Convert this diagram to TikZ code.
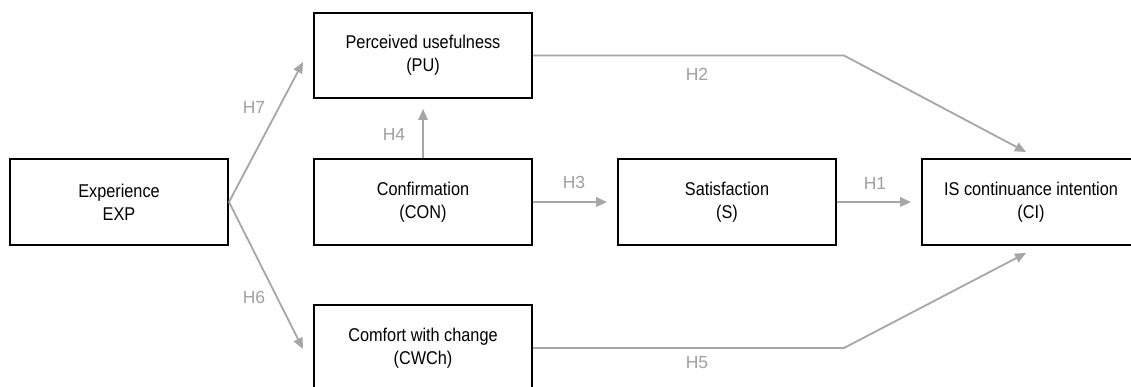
\documentclass[tikz,border=0pt]{standalone}
\usepackage{fontspec}
\setmainfont{Liberation Sans}
\newfontfamily\boxfont[FakeStretch=0.88]{Liberation Sans}
\usetikzlibrary{arrows.meta}
\definecolor{linkgray}{RGB}{166,166,166}
\definecolor{labelgray}{RGB}{160,160,160}
\tikzset{
  construct/.style={draw=black, line width=2pt, fill=white, rectangle,
    minimum width=218pt, minimum height=86pt, inner sep=0pt, align=center,
    font=\boxfont\fontsize{18.5}{23}\selectfont},
  link/.style={draw=linkgray, line width=1.8pt,
    -{Triangle[length=11pt,width=9.5pt]}},
  hyp/.style={text=labelgray, font=\fontsize{17.5}{20}\selectfont, inner sep=0pt}
}
\begin{document}
\begin{tikzpicture}[x=1pt, y=-1pt]
  \clip (0,0) rectangle (1131,387);
  \fill[white] (0,0) rectangle (1131,387);

  % constructs
  \node[construct] (EXP)  at (119,202)   {Experience\\EXP};
  \node[construct, minimum height=85pt] (PU) at (423,55.5) {Perceived usefulness\\(PU)};
  \node[construct] (CON)  at (423,202)   {Confirmation\\(CON)};
  \node[construct] (CWCh) at (423,348)   {Comfort with change\\(CWCh)};
  \node[construct] (S)    at (727,202)   {Satisfaction\\(S)};
  \node[construct] (CI)   at (1031,202)  {IS continuance intention\\(CI)};

  % free ends and bends of the paths
  \coordinate (t7) at (303,62);
  \coordinate (t6) at (303,349);
  \coordinate (b2) at (844,55.5);
  \coordinate (t2) at (1026,152);
  \coordinate (b5) at (844,348);
  \coordinate (t5) at (1026,253);

  % hypothesised paths
  \draw[link] (EXP.east) -- (t7);
  \draw[link] (EXP.east) -- (t6);
  \draw[link, shorten >=10pt] (CON.north) -- (PU.south);
  \draw[link, shorten >=10pt] (CON.east) -- (S.west);
  \draw[link, shorten >=10pt] (S.east) -- (CI.west);
  \draw[link] (PU.east) -- (b2) -- (t2);
  \draw[link] (CWCh.east) -- (b5) -- (t5);

  % path labels
  \node[hyp] (h7) at (254,107) {H7};
  \node[hyp] (h6) at (254,297) {H6};
  \node[hyp] (h4) at (394,134) {H4};
  \node[hyp] (h3) at (574,182) {H3};
  \node[hyp] (h1) at (875,183) {H1};
  \node[hyp] (h2) at (697,74)  {H2};
  \node[hyp] (h5) at (697,363) {H5};
\end{tikzpicture}
\end{document}
